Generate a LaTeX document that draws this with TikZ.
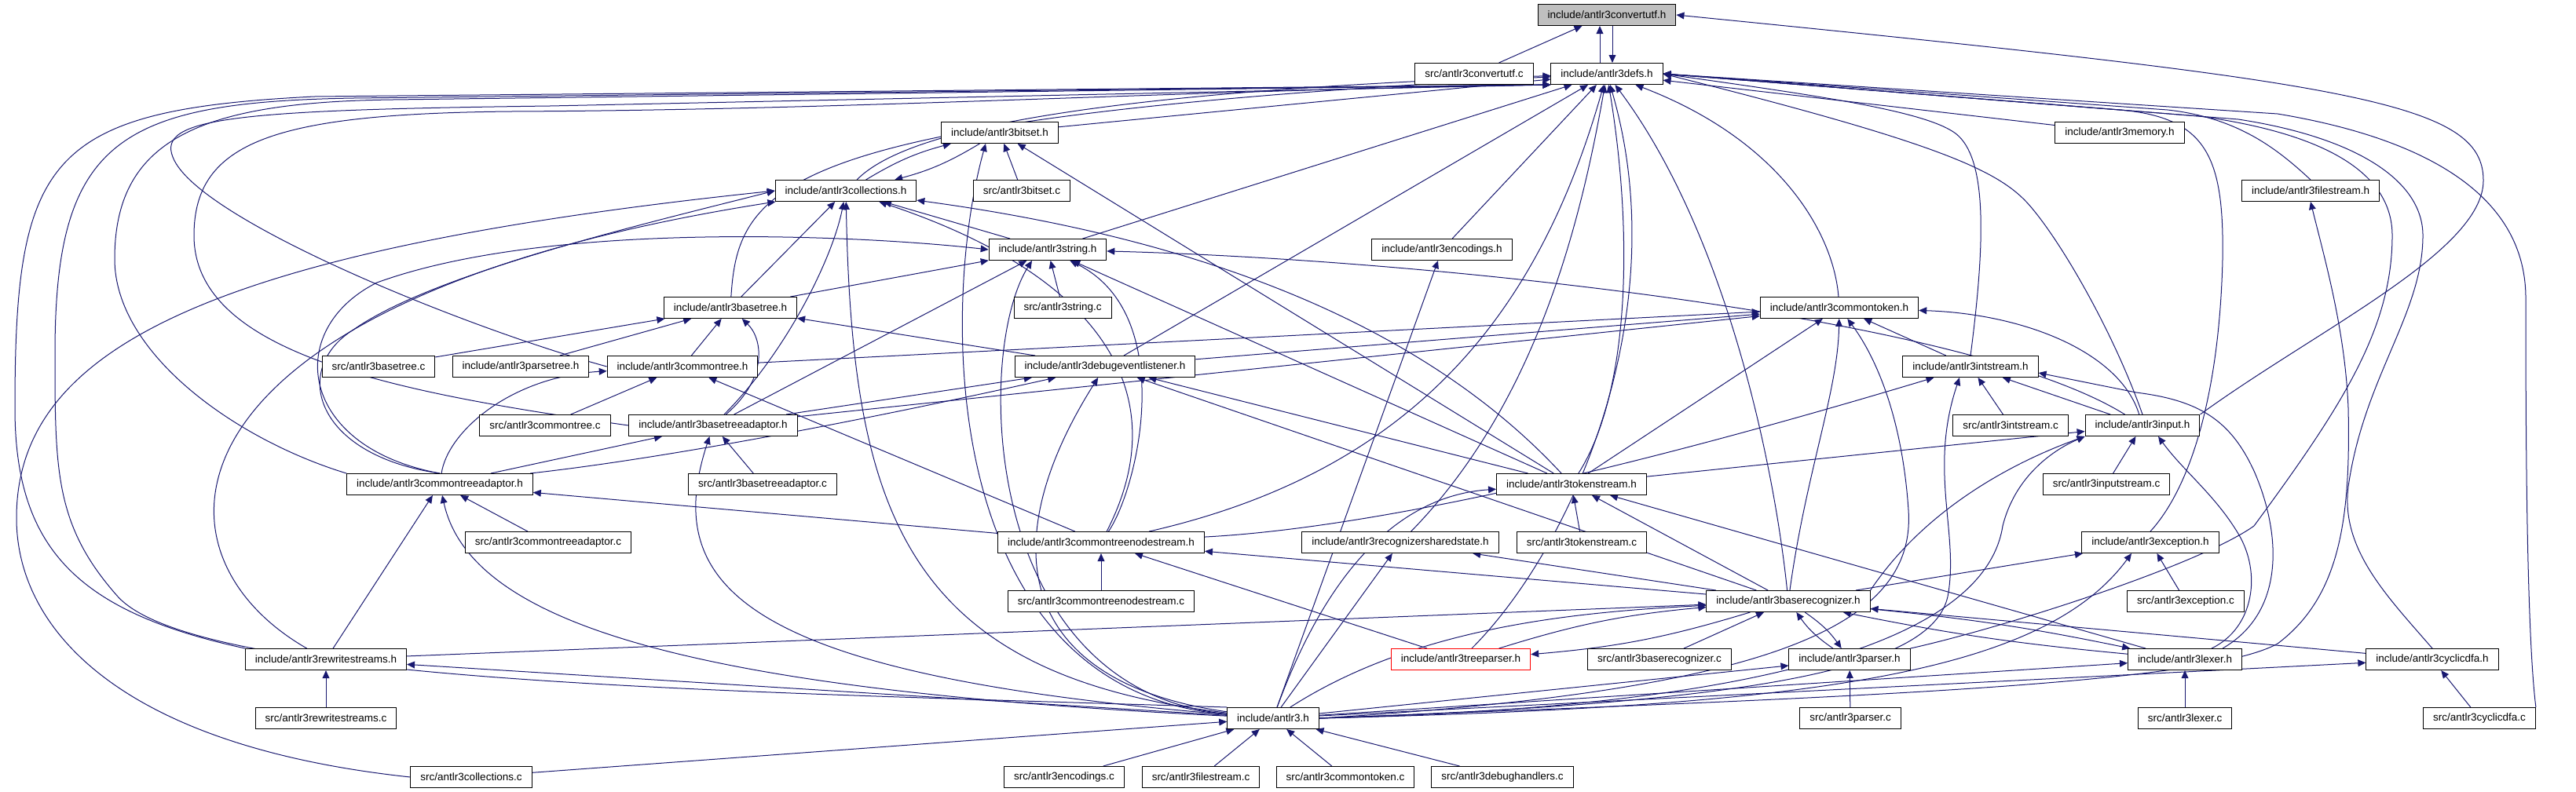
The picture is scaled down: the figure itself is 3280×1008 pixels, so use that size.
\documentclass[tikz,border=0pt]{standalone}
\usepackage{fontspec}
\setmainfont{Liberation Sans}
\usetikzlibrary{arrows.meta,backgrounds}
\definecolor{incgraphedge}{RGB}{25,25,112}
\definecolor{incgraphroot}{RGB}{191,191,191}
\definecolor{incgraphred}{RGB}{255,0,0}

\begin{document}
\begin{tikzpicture}[x=0.5pt,y=-0.5pt,
  every node/.style={font=\fontsize{6.75}{8}\selectfont,inner sep=0pt},
  incfile/.style={draw=black,line width=0.5pt,fill=white,inner xsep=6.25pt,minimum height=13.5pt},
  incroot/.style={incfile,fill=incgraphroot},
  incmark/.style={incfile,draw=incgraphred},
  incdep/.style={draw=incgraphedge,line width=0.5pt,-{Triangle[length=5pt,width=4.4pt]}}]
\useasboundingbox (0,0) rectangle (3280,1008);
\node[incroot] (convertutf) at (2046,19) {include/antlr3convertutf.h};
\node[incfile] (srcconvertutf) at (1877,94) {src/antlr3convertutf.c};
\node[incfile] (defs) at (2046,94) {include/antlr3defs.h};
\node[incfile] (bitset) at (1273,169) {include/antlr3bitset.h};
\node[incfile] (memory) at (2699,169) {include/antlr3memory.h};
\node[incfile] (collections) at (1077,243) {include/antlr3collections.h};
\node[incfile] (srcbitset) at (1301,243) {src/antlr3bitset.c};
\node[incfile] (filestream) at (2942,243) {include/antlr3filestream.h};
\node[incfile] (string) at (1334,318) {include/antlr3string.h};
\node[incfile] (encodings) at (1836,318) {include/antlr3encodings.h};
\node[incfile] (basetree) at (930,392) {include/antlr3basetree.h};
\node[incfile] (srcstring) at (1353,392) {src/antlr3string.c};
\node[incfile] (commontoken) at (2342,392) {include/antlr3commontoken.h};
\node[incfile] (srcbasetree) at (482,467) {src/antlr3basetree.c};
\node[incfile] (parsetree) at (663,467) {include/antlr3parsetree.h};
\node[incfile] (commontree) at (869,467) {include/antlr3commontree.h};
\node[incfile] (debugevent) at (1407,467) {include/antlr3debugeventlistener.h};
\node[incfile] (intstream) at (2509,467) {include/antlr3intstream.h};
\node[incfile] (srccommontree) at (694,542) {src/antlr3commontree.c};
\node[incfile] (basetreeadaptor) at (908,542) {include/antlr3basetreeadaptor.h};
\node[incfile] (srcintstream) at (2560,542) {src/antlr3intstream.c};
\node[incfile] (input) at (2728,542) {include/antlr3input.h};
\node[incfile] (commontreeadaptor) at (560,617) {include/antlr3commontreeadaptor.h};
\node[incfile] (srcbasetreeadaptor) at (971,617) {src/antlr3basetreeadaptor.c};
\node[incfile] (tokenstream) at (2001,617) {include/antlr3tokenstream.h};
\node[incfile] (srcinputstream) at (2682,617) {src/antlr3inputstream.c};
\node[incfile] (srccommontreeadaptor) at (698,691) {src/antlr3commontreeadaptor.c};
\node[incfile] (commontreenodestream) at (1402,691) {include/antlr3commontreenodestream.h};
\node[incfile] (recognizer) at (1783,691) {include/antlr3recognizersharedstate.h};
\node[incfile] (srctokenstream) at (2014,691) {src/antlr3tokenstream.c};
\node[incfile] (exception) at (2738,691) {include/antlr3exception.h};
\node[incfile] (srccommontreenodestream) at (1402,766) {src/antlr3commontreenodestream.c};
\node[incfile] (baserecognizer) at (2277,766) {include/antlr3baserecognizer.h};
\node[incfile] (srcexception) at (2783,766) {src/antlr3exception.c};
\node[incfile] (rewritestreams) at (415,840) {include/antlr3rewritestreams.h};
\node[incmark] (treeparser) at (1860,840) {include/antlr3treeparser.h};
\node[incfile] (srcbaserecognizer) at (2113,840) {src/antlr3baserecognizer.c};
\node[incfile] (parser) at (2355,840) {include/antlr3parser.h};
\node[incfile] (lexer) at (2782,840) {include/antlr3lexer.h};
\node[incfile] (cyclicdfa) at (3097,840) {include/antlr3cyclicdfa.h};
\node[incfile] (srcrewritestreams) at (415,915) {src/antlr3rewritestreams.c};
\node[incfile] (antlr3) at (1621,915) {include/antlr3.h};
\node[incfile] (srcparser) at (2356,915) {src/antlr3parser.c};
\node[incfile] (srclexer) at (2782,915) {src/antlr3lexer.c};
\node[incfile] (srccyclicdfa) at (3157,915) {src/antlr3cyclicdfa.c};
\node[incfile] (srccollections) at (600,990) {src/antlr3collections.c};
\node[incfile] (srcencodings) at (1355,990) {src/antlr3encodings.c};
\node[incfile] (srcfilestream) at (1529,990) {src/antlr3filestream.c};
\node[incfile] (srccommontoken) at (1713,990) {src/antlr3commontoken.c};
\node[incfile] (srcdebughandlers) at (1913,990) {src/antlr3debughandlers.c};
\begin{pgfonlayer}{background}
% convertutf and defs
\draw[incdep] (srcconvertutf) -- (convertutf);
\draw[incdep] ([xshift=-4.5pt]defs.north) -- ([xshift=-4.5pt]convertutf.south);
\draw[incdep] ([xshift=3.5pt]convertutf.south) -- ([xshift=3.5pt]defs.north);
\draw[incdep] (input.north east) .. controls (2950,420) and (3162,320) .. (3162,230) .. controls (3162,130) and (3000,105) .. (convertutf.east);
\draw[incdep] (bitset) -- (defs);
\draw[incdep] (memory) -- (defs);
\draw[incdep] (collections) .. controls (1140,180) and (1300,120) .. (defs);
\draw[incdep] (basetree) .. controls (940,230) and (1000,150) .. (defs);
\draw[incdep] (string) -- (defs);
\draw[incdep] (encodings) -- (defs);
\draw[incdep] (debugevent) -- (defs);
\draw[incdep] (commontreenodestream) .. controls (1800,600) and (1959,400) .. (defs);
\draw[incdep] (recognizer) .. controls (1950,520) and (2010,300) .. (defs);
\draw[incdep] (tokenstream) .. controls (2075,500) and (2080,300) .. (defs);
\draw[incdep] (treeparser) .. controls (2000,700) and (2135,400) .. (defs);
\draw[incdep] (baserecognizer) .. controls (2260,600) and (2200,300) .. (defs);
\draw[incdep] (commontoken) .. controls (2335,300) and (2270,180) .. (defs);
\draw[incdep] (intstream.north) .. controls (2529,300) and (2529,200) .. (2490,170) .. controls (2450,140) and (2300,120) .. (defs.east);
\draw[incdep] (input.north) .. controls (2690,420) and (2620,300) .. (2580,257) .. controls (2540,215) and (2460,180) .. (defs.east);
\draw[incdep] (filestream.north) .. controls (2900,190) and (2850,150) .. (2760,140) -- (defs.east);
\draw[incdep] (exception.north) .. controls (2790,620) and (2826,500) .. (2830,330) .. controls (2832,200) and (2810,150) .. (2700,140) -- (defs.east);
\draw[incdep] (parser.north east) .. controls (2550,800) and (2800,720) .. (2870,670) .. controls (2980,520) and (3046,420) .. (3046,300) .. controls (3046,220) and (2960,170) .. (2800,148) -- (defs.east);
\draw[incdep] (cyclicdfa.north) .. controls (3040,760) and (2980,700) .. (2990,620) .. controls (3010,480) and (3085,400) .. (3085,300) .. controls (3085,230) and (3000,175) .. (2850,152) -- (defs.east);
\draw[incdep] (srccyclicdfa.north east) .. controls (3216,800) and (3216,500) .. (3216,380) .. controls (3216,230) and (3050,170) .. (2900,145) -- (defs.east);
\draw[incdep] (rewritestreams.north west) .. controls (100,780) and (19,700) .. (19,520) .. controls (19,200) and (60,140) .. (400,123) -- (defs.south west);
\draw[incdep] (antlr3.north west) .. controls (900,880) and (250,870) .. (150,760) .. controls (70,670) and (70,600) .. (70,450) .. controls (70,180) and (150,130) .. (450,125) -- (defs.south west);
\draw[incdep] (commontreeadaptor.north west) .. controls (300,560) and (146,450) .. (146,330) .. controls (146,180) and (250,130) .. (500,127) -- (defs.south west);
\draw[incdep] (basetreeadaptor.west) .. controls (500,500) and (247,450) .. (247,300) .. controls (247,180) and (350,145) .. (650,142) .. controls (1100,140) and (1500,115) .. (defs.south west);
\draw[incdep] (commontree.west) .. controls (600,420) and (250,280) .. (220,200) .. controls (200,150) and (300,140) .. (700,135) -- (defs.south west);
% bitset and collections
\draw[incdep] (collections) to[bend left=8] (bitset);
\draw[incdep] (bitset) to[bend left=8] (collections);
\draw[incdep] (srcbitset) -- (bitset);
\draw[incdep] (antlr3) .. controls (1200,880) and (1195,400) .. ([xshift=-9pt]bitset.south);
\draw[incdep] (tokenstream) -- (bitset);
\draw[incdep] (srccollections.west) .. controls (150,950) and (21,800) .. (21,660) .. controls (21,450) and (250,320) .. (collections.west);
\draw[incdep] (rewritestreams) .. controls (171,700) and (200,380) .. (collections);
\draw[incdep] (commontreeadaptor.north) .. controls (400,580) and (370,470) .. (450,420) .. controls (550,350) and (800,290) .. (collections.west);
\draw[incdep] (basetree) -- (collections);
\draw[incdep] (basetreeadaptor) .. controls (1000,450) and (1060,330) .. (collections);
\draw[incdep] (antlr3) .. controls (1150,860) and (1085,650) .. (collections);
\draw[incdep] (string) -- (collections);
\draw[incdep] (tokenstream) .. controls (1800,400) and (1500,300) .. (collections);
\draw[incdep] (commontreenodestream) .. controls (1500,500) and (1400,350) .. (collections);
% string and basetree
\draw[incdep] (basetree) -- (string);
\draw[incdep] (commontreeadaptor.north) .. controls (380,570) and (360,420) .. (480,360) .. controls (700,280) and (1100,300) .. (string.west);
\draw[incdep] (basetreeadaptor) -- (string);
\draw[incdep] (antlr3) .. controls (1250,880) and (1240,450) .. ([xshift=-10pt]string.south);
\draw[incdep] (srcstring) -- (string);
\draw[incdep] (commontreenodestream) .. controls (1450,620) and (1500,400) .. (string);
\draw[incdep] (tokenstream) -- (string);
\draw[incdep] (input) .. controls (2500,400) and (1800,330) .. (string);
\draw[incdep] (srcbasetree) -- (basetree);
\draw[incdep] (parsetree) -- (basetree);
\draw[incdep] (commontree) -- (basetree);
\draw[incdep] (basetreeadaptor) .. controls (980,480) and (970,430) .. (basetree);
\draw[incdep] (debugevent) -- (basetree);
% commontoken and commontree
\draw[incdep] (commontree) -- (commontoken);
\draw[incdep] (debugevent) -- (commontoken);
\draw[incdep] (basetreeadaptor) -- (commontoken);
\draw[incdep] (tokenstream) -- (commontoken);
\draw[incdep] (baserecognizer) .. controls (2300,600) and (2340,500) .. (commontoken);
\draw[incdep] (antlr3.east) .. controls (2250,880) and (2440,800) .. (2430,650) .. controls (2420,500) and (2370,430) .. (commontoken);
\draw[incdep] (intstream) -- (commontoken);
\draw[incdep] (input) .. controls (2700,450) and (2580,400) .. (commontoken);
\draw[incdep] (srccommontree) -- (commontree);
\draw[incdep] (commontreeadaptor) .. controls (570,550) and (650,480) .. (commontree);
\draw[incdep] (commontreenodestream) -- (commontree);
% debugeventlistener, intstream, input
\draw[incdep] (basetreeadaptor) -- (debugevent);
\draw[incdep] (commontreeadaptor) .. controls (700,600) and (900,580) .. (debugevent);
\draw[incdep] (antlr3) .. controls (1300,870) and (1260,700) .. (debugevent);
\draw[incdep] (baserecognizer) -- (debugevent);
\draw[incdep] (tokenstream) -- (debugevent);
\draw[incdep] (srcintstream) -- (intstream);
\draw[incdep] (input) -- (intstream);
\draw[incdep] ([xshift=24pt]lexer.north) .. controls (2910,780) and (2905,680) .. (2870,600) .. controls (2840,535) and (2800,510) .. (2720,500) -- ([yshift=-4pt]intstream.east);
\draw[incdep] (antlr3.east) .. controls (2250,895) and (2460,850) .. (2480,760) .. controls (2495,680) and (2455,600) .. ([xshift=-7pt]intstream.south);
\draw[incdep] (commontreenodestream) .. controls (1800,670) and (2200,560) .. (intstream);
\draw[incdep] (tokenstream) -- (input);
\draw[incdep] (baserecognizer.north east) .. controls (2450,650) and (2560,590) .. (input.south west);
\draw[incdep] (antlr3.east) .. controls (2300,900) and (2530,800) .. (2550,670) .. controls (2565,610) and (2610,575) .. (input.south west);
\draw[incdep] (srcinputstream) -- (input);
\draw[incdep] ([xshift=17pt]lexer.north) .. controls (2870,800) and (2880,730) .. (2850,680) .. controls (2820,630) and (2780,600) .. ([xshift=10pt]input.south);
% adaptors, streams
\draw[incdep] (commontreeadaptor) -- (basetreeadaptor);
\draw[incdep] (antlr3) .. controls (950,860) and (840,750) .. (basetreeadaptor);
\draw[incdep] (srcbasetreeadaptor) -- (basetreeadaptor);
\draw[incdep] (rewritestreams) -- (commontreeadaptor);
\draw[incdep] (antlr3) .. controls (900,880) and (600,800) .. (commontreeadaptor);
\draw[incdep] (srccommontreeadaptor) -- (commontreeadaptor);
\draw[incdep] (commontreenodestream) -- (commontreeadaptor);
\draw[incdep] (srctokenstream) -- (tokenstream);
\draw[incdep] (baserecognizer) -- (tokenstream);
\draw[incdep] ([xshift=-25pt]lexer.north) -- (tokenstream);
\draw[incdep] (antlr3) .. controls (1700,700) and (1800,630) .. (tokenstream);
\draw[incdep] (srccommontreenodestream) -- (commontreenodestream);
\draw[incdep] (baserecognizer) -- (commontreenodestream);
\draw[incdep] (treeparser) -- (commontreenodestream);
\draw[incdep] (baserecognizer) -- (recognizer);
\draw[incdep] (antlr3) -- (recognizer);
\draw[incdep] (baserecognizer) -- (exception);
\draw[incdep] (antlr3.east) .. controls (2300,900) and (2600,860) .. ([xshift=-12pt]exception.south);
\draw[incdep] (srcexception) -- (exception);
% recognizers
\draw[incdep] (rewritestreams) -- (baserecognizer);
\draw[incdep] (treeparser) to[bend left=6] (baserecognizer);
\draw[incdep] (baserecognizer) to[bend left=6] (treeparser);
\draw[incdep] (antlr3) .. controls (1800,800) and (2000,780) .. (baserecognizer);
\draw[incdep] (srcbaserecognizer) -- (baserecognizer);
\draw[incdep] (parser) to[bend left=10] (baserecognizer);
\draw[incdep] (baserecognizer) to[bend left=10] (parser);
\draw[incdep] (lexer) to[bend left=3] (baserecognizer);
\draw[incdep] (baserecognizer) to[bend left=3] (lexer);
\draw[incdep] (cyclicdfa) -- (baserecognizer);
\draw[incdep] (srcparser) -- (parser);
\draw[incdep] (antlr3) -- (parser);
\draw[incdep] (srclexer) -- (lexer);
\draw[incdep] (antlr3) -- (lexer);
\draw[incdep] (srccyclicdfa) -- (cyclicdfa);
\draw[incdep] (antlr3) -- (cyclicdfa);
\draw[incdep] (srcrewritestreams) -- (rewritestreams);
\draw[incdep] (antlr3) -- (rewritestreams);
\draw[incdep] (antlr3) -- (encodings);
\draw[incdep] (antlr3.east) .. controls (2300,890) and (2800,875) .. (2900,820) .. controls (2980,760) and (2993,660) .. (2990,520) .. controls (2986,420) and (2960,330) .. (filestream.south);
% antlr3.h
\draw[incdep] (srccollections) -- (antlr3);
\draw[incdep] (srcencodings) -- (antlr3);
\draw[incdep] (srcfilestream) -- (antlr3);
\draw[incdep] (srccommontoken) -- (antlr3);
\draw[incdep] (srcdebughandlers) -- (antlr3);
\end{pgfonlayer}
\end{tikzpicture}
\end{document}
